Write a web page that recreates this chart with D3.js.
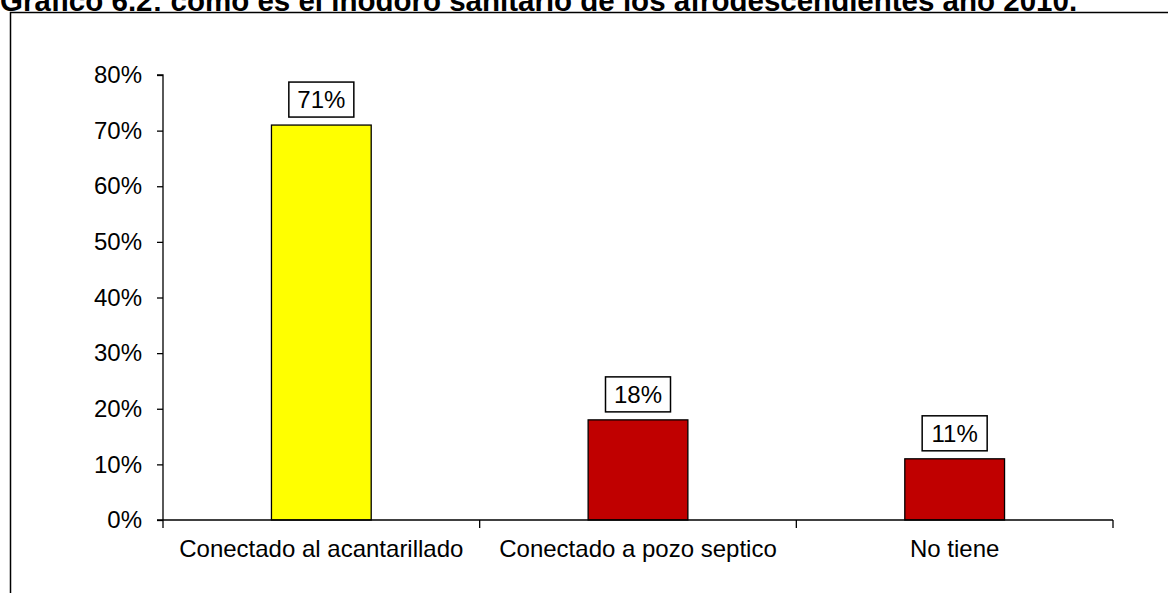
<!DOCTYPE html>
<html>
<head>
<meta charset="utf-8">
<script src="https://cdn.jsdelivr.net/npm/d3@7"></script>
<style>
  body { margin: 0; background: #fff; }
  text { font-family: Arial, "Liberation Sans", sans-serif; }
</style>
</head>
<body>
<script>
// data
var categories = ["Conectado al acantarillado", "Conectado a pozo septico", "No tiene"];
var values = [71, 18, 11];
var valueLabels = ["71%", "18%", "11%"];
var barColors = ["#ffff00", "#c00000", "#c00000"];
var yTicks = [0, 10, 20, 30, 40, 50, 60, 70, 80];
var title = "Gráfico 6.2: como es el inodoro sanitario de los afrodescendientes año 2010.";

var width = 1168;
var height = 593;

var svg = d3.select("body")
    .append("svg")
    .attr("width", width)
    .attr("height", height);

// title, cut off by top of page
svg.append("text")
    .attr("x", 0)
    .attr("y", 11)
    .attr("font-size", 29.5)
    .attr("font-weight", "bold")
    .text(title);

// chart frame (top and left edges visible)
svg.append("path")
    .attr("d", "M10.5,600V12.5H1170")
    .attr("fill", "none")
    .attr("stroke", "#000")
    .attr("stroke-width", 1.5);

var plot = { left: 163, right: 1113, top: 75, bottom: 520 };

var x = d3.scaleBand()
    .domain(categories)
    .range([plot.left, plot.right])
    .paddingInner(0)
    .paddingOuter(0);

var y = d3.scaleLinear()
    .domain([0, 80])
    .range([plot.bottom, plot.top]);

// y axis
var yAxis = svg.append("g")
    .attr("transform", "translate(" + plot.left + ",0)")
    .call(d3.axisLeft(y).tickValues(yTicks).tickSize(6).tickPadding(15)
        .tickFormat(function(d) { return d + "%"; }));
yAxis.selectAll("text").attr("font-size", 24).attr("fill", "#000");
yAxis.selectAll("line, path").attr("stroke", "#000").attr("stroke-width", 1.3);
yAxis.select(".domain").attr("d", "M-6," + y(80) + "H0V" + y(0));

// bars
var barW = x.bandwidth() * 0.315;
svg.selectAll(".bar")
    .data(values)
    .enter()
    .append("rect")
    .attr("class", "bar")
    .attr("x", function(d, i) { return x(categories[i]) + x.bandwidth() / 2 - barW / 2; })
    .attr("y", function(d) { return y(d); })
    .attr("width", barW)
    .attr("height", function(d) { return y(0) - y(d); })
    .attr("fill", function(d, i) { return barColors[i]; })
    .attr("stroke", "#000")
    .attr("stroke-width", 1.3);

// x axis
var xAxisG = svg.append("g")
    .attr("transform", "translate(0," + plot.bottom + ")");
xAxisG.append("line")
    .attr("x1", plot.left - 6).attr("x2", plot.right)
    .attr("stroke", "#000").attr("stroke-width", 1.3);
var tickPos = [plot.left].concat(categories.map(function(c) { return x(c) + x.bandwidth(); }));
xAxisG.selectAll(".xtick")
    .data(tickPos)
    .enter()
    .append("line")
    .attr("x1", function(d) { return d; })
    .attr("x2", function(d) { return d; })
    .attr("y1", 0).attr("y2", 8)
    .attr("stroke", "#000").attr("stroke-width", 1.3);
xAxisG.selectAll(".xlab")
    .data(categories)
    .enter()
    .append("text")
    .attr("x", function(d) { return x(d) + x.bandwidth() / 2; })
    .attr("y", 37)
    .attr("text-anchor", "middle")
    .attr("font-size", 24)
    .text(function(d) { return d; });

// value labels in boxes
var lab = svg.selectAll(".vlab")
    .data(values)
    .enter()
    .append("g")
    .attr("transform", function(d, i) {
        return "translate(" + (x(categories[i]) + x.bandwidth() / 2) + "," + (y(d) - 8) + ")";
    });
lab.append("rect")
    .attr("x", -32.5)
    .attr("y", -35)
    .attr("width", 65)
    .attr("height", 35)
    .attr("fill", "#fff")
    .attr("stroke", "#000")
    .attr("stroke-width", 1.5);
lab.append("text")
    .attr("y", -9)
    .attr("text-anchor", "middle")
    .attr("font-size", 24)
    .text(function(d, i) { return valueLabels[i]; });
</script>
</body>
</html>
